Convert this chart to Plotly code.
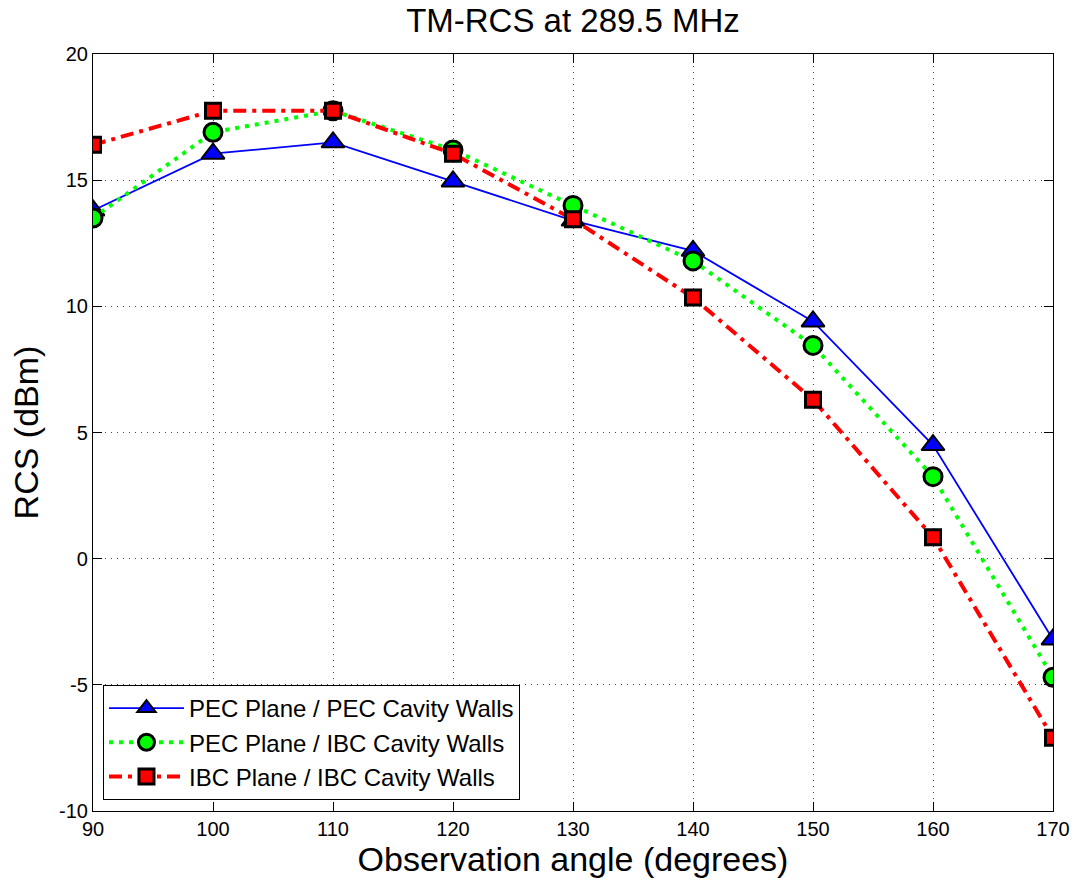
import plotly.graph_objects as go

angles = [90, 100, 110, 120, 130, 140, 150, 160, 170]
pec_pec = [13.8, 16.05, 16.5, 14.95, 13.4, 12.2, 9.4, 4.5, -3.2]
pec_ibc = [13.5, 16.9, 17.75, 16.2, 14.0, 11.8, 8.45, 3.25, -4.7]
ibc_ibc = [16.4, 17.75, 17.75, 16.05, 13.45, 10.35, 6.3, 0.85, -7.1]

names = ["PEC Plane / PEC Cavity Walls", "PEC Plane / IBC Cavity Walls", "IBC Plane / IBC Cavity Walls"]

fig = go.Figure()
fig.add_trace(go.Scatter(
    x=angles, y=pec_pec, name=names[0], mode="lines+markers",
    line=dict(color="#0000ff", width=1.8),
    marker=dict(symbol="triangle-up", size=20, color="#0000ff", line=dict(color="black", width=2)),
))
fig.add_trace(go.Scatter(
    x=angles, y=pec_ibc, name=names[1], mode="lines+markers",
    line=dict(color="#00ff00", width=4, dash="4px,6px"),
    marker=dict(symbol="circle", size=18, color="#00ff00", line=dict(color="black", width=3)),
))
fig.add_trace(go.Scatter(
    x=angles, y=ibc_ibc, name=names[2], mode="lines+markers",
    line=dict(color="#ff0000", width=4, dash="13px,6px,4px,6px"),
    marker=dict(symbol="square", size=15, color="#ff0000", line=dict(color="black", width=3)),
))

axis_common = dict(
    showline=True, linecolor="black", linewidth=1.2, mirror="ticks",
    ticks="inside", ticklen=9, tickcolor="black", tickwidth=1,
    showgrid=True, gridcolor="#444444", griddash="1px,5px", gridwidth=1,
    zeroline=False, tickfont=dict(size=20, color="black"), automargin=False,
)

fig.update_xaxes(range=[90, 170], tickvals=[90, 100, 110, 120, 130, 140, 150, 160, 170],
                 title=dict(text="Observation angle (degrees)", font=dict(size=34, color="black"), standoff=6),
                 **axis_common)
fig.update_yaxes(range=[-10, 20], tickvals=[-10, -5, 0, 5, 10, 15, 20],
                 ticktext=["-10", "-5", "0", "5", "10", "15", "20"],
                 title=dict(text="RCS (dBm)", font=dict(size=34, color="black"), standoff=10),
                 **axis_common)

fig.update_layout(
    width=1076, height=888,
    margin=dict(l=93, r=23, t=54, b=77),
    paper_bgcolor="white", plot_bgcolor="white",
    font=dict(family="Liberation Sans, Arial, sans-serif", color="black"),
    title=dict(text="TM-RCS at 289.5 MHz", x=0.5, xref="paper", xanchor="center", y=0.977, yanchor="middle",
               font=dict(size=33, color="black")),
    legend=dict(x=0.0104, y=0.0146, xanchor="left", yanchor="bottom",
                bordercolor="black", borderwidth=1, bgcolor="white",
                font=dict(size=24, color="black"), itemwidth=75, tracegroupgap=0),
    showlegend=True,
)

fig.write_html("out.html")
